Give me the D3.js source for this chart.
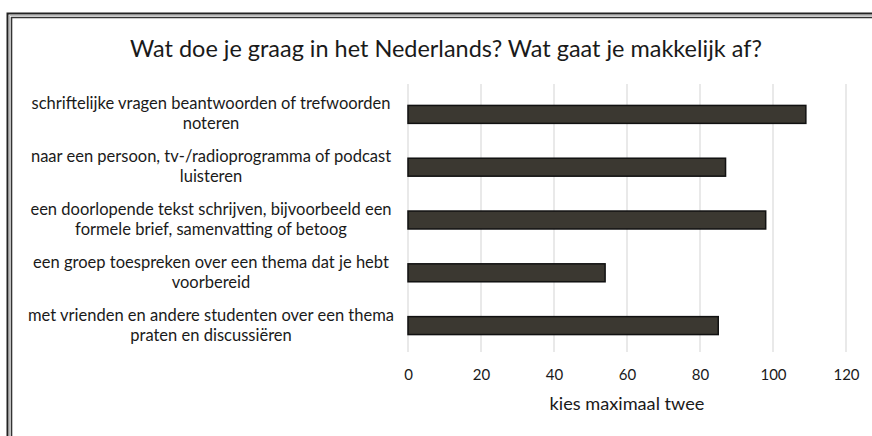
<!DOCTYPE html>
<html>
<head>
<meta charset="utf-8">
<script src="https://cdn.jsdelivr.net/npm/d3@7"></script>
<style>
  html, body { margin: 0; padding: 0; background: #fff; }
  svg { display: block; }
  text { font-family: Lato, "Open Sans", sans-serif; fill: #1a1a1a; }
</style>
</head>
<body>
<svg id="chart" width="872" height="436"></svg>
<script>
// Survey answers: each category label is split into its two display lines
const categoryLines = [
  ["schriftelijke vragen beantwoorden of trefwoorden", "noteren"],
  ["naar een persoon, tv-/radioprogramma of podcast", "luisteren"],
  ["een doorlopende tekst schrijven, bijvoorbeeld een", "formele brief, samenvatting of betoog"],
  ["een groep toespreken over een thema dat je hebt", "voorbereid"],
  ["met vrienden en andere studenten over een thema", "praten en discussiëren"]
];
const counts = [109, 87, 98, 54, 85];
const xTicks = [0, 20, 40, 60, 80, 100, 120];
const chartTitle = "Wat doe je graag in het Nederlands? Wat gaat je makkelijk af?";
const axisTitle = "kies maximaal twee";

const svg = d3.select("#chart");

// Double frame line along the top and left edge
const frame = svg.append("g").attr("fill", "none");
frame.append("path").attr("d", "M7.5,436 V13.5 H872").attr("stroke", "#222").attr("stroke-width", 2);
frame.append("path").attr("d", "M11.5,436 V17.5 H872").attr("stroke", "#333").attr("stroke-width", 1.6);
frame.append("path").attr("d", "M9.5,436 V15.5 H872").attr("stroke", "#bbb").attr("stroke-width", 1);

const plot = { left: 408, right: 846, top: 88, bottom: 352 };

const x = d3.scaleLinear().domain([0, 120]).range([plot.left, plot.right]);
const y = d3.scaleBand()
  .domain(d3.range(counts.length))
  .range([plot.top, plot.bottom])
  .paddingInner(0.66)
  .paddingOuter(0.33);

// Shrink or grow a text's font size so it spans the given width
function fitWidth(sel, target) {
  const node = sel.node();
  const fs = parseFloat(sel.attr("font-size"));
  const w = node.getComputedTextLength();
  sel.attr("font-size", (fs * target / w).toFixed(2));
  return fs * target / w;
}

// Title
const title = svg.append("text")
  .attr("x", 446).attr("y", 57)
  .attr("text-anchor", "middle")
  .attr("font-size", 18)
  .text(chartTitle);
fitWidth(title, 632);

// Vertical gridlines
svg.append("g")
  .selectAll("line")
  .data(xTicks)
  .join("line")
  .attr("x1", d => x(d)).attr("x2", d => x(d))
  .attr("y1", plot.top - 4).attr("y2", plot.bottom)
  .attr("stroke", "#dadada")
  .attr("stroke-width", 1.2);

// Bars
svg.append("g")
  .selectAll("rect")
  .data(counts)
  .join("rect")
  .attr("x", x(0))
  .attr("y", (d, i) => y(i))
  .attr("width", d => x(d) - x(0))
  .attr("height", y.bandwidth())
  .attr("fill", "#3b3831")
  .attr("stroke", "#111")
  .attr("stroke-width", 1.5);

// Category labels (two centred lines each)
const labelX = 211;
const labelG = svg.append("g");
const probe = labelG.append("text").attr("font-size", 14).text(categoryLines[0][0]);
const labelSize = fitWidth(probe, 359);
probe.remove();

categoryLines.forEach((lines, i) => {
  const cy = y(i) + y.bandwidth() / 2;
  const t = labelG.append("text")
    .attr("text-anchor", "middle")
    .attr("font-size", labelSize.toFixed(2));
  lines.forEach((line, j) => {
    t.append("tspan")
      .attr("x", labelX)
      .attr("y", cy - 5 + j * 20)
      .text(line);
  });
});

// X axis tick labels
const xAxis = d3.axisBottom(x).tickValues(xTicks).tickSize(0).tickPadding(0);
const axisG = svg.append("g")
  .attr("transform", `translate(0,${plot.bottom + 17})`)
  .call(xAxis);
axisG.select(".domain").remove();
axisG.selectAll("text")
  .attr("font-size", 15)
  .attr("dy", "0.71em")
  .style("font-family", "Lato, 'Open Sans', sans-serif")
  .attr("fill", "#1a1a1a");

// Axis title
const xt = svg.append("text")
  .attr("x", (plot.left + plot.right) / 2)
  .attr("y", 410)
  .attr("text-anchor", "middle")
  .attr("font-size", 15)
  .text(axisTitle);
fitWidth(xt, 155);
</script>
</body>
</html>
